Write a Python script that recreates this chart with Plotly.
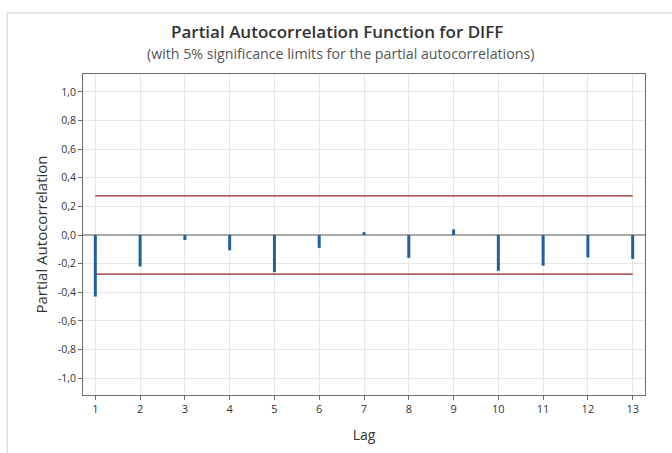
import plotly.graph_objects as go

lags = list(range(1, 14))
pacf = [-0.43, -0.22, -0.035, -0.107, -0.26, -0.09, 0.02, -0.16, 0.04, -0.25, -0.215, -0.157, -0.167]
sig_limit = 0.273
y_ticks = [1.0, 0.8, 0.6, 0.4, 0.2, 0.0, -0.2, -0.4, -0.6, -0.8, -1.0]
y_tick_text = ["1,0", "0,8", "0,6", "0,4", "0,2", "0,0", "-0,2", "-0,4", "-0,6", "-0,8", "-1,0"]
title_text = "Partial Autocorrelation Function for DIFF"
subtitle_text = "(with 5% significance limits for the partial autocorrelations)"

FONT = "Open Sans, Noto Sans, sans-serif"

fig = go.Figure()

# significance limits
fig.add_trace(go.Scatter(x=[lags[0], lags[-1]], y=[sig_limit, sig_limit], mode="lines",
                         line=dict(color="#8b2323", width=1.3), hoverinfo="skip", showlegend=False))
fig.add_trace(go.Scatter(x=[lags[0], lags[-1]], y=[-sig_limit, -sig_limit], mode="lines",
                         line=dict(color="#8b2323", width=1.3), hoverinfo="skip", showlegend=False))

# PACF spikes
xs, ys = [], []
for l, v in zip(lags, pacf):
    xs += [l, l, None]
    ys += [0, v, None]
fig.add_trace(go.Scatter(x=xs, y=ys, mode="lines", line=dict(color="#22609a", width=3),
                         showlegend=False))

fig.update_layout(
    width=672, height=453,
    margin=dict(l=83, r=27, t=74, b=58),
    paper_bgcolor="white", plot_bgcolor="white",
    font=dict(family=FONT, color="#333333"),
    xaxis=dict(
        range=[0.725, 13.275], tickmode="array", tickvals=lags, ticktext=[str(l) for l in lags],
        showgrid=True, gridcolor="#e6e6e6", gridwidth=1,
        showline=True, linecolor="#6e6e6e", linewidth=1, mirror=True,
        ticks="outside", ticklen=4, tickcolor="#6e6e6e",
        tickfont=dict(size=11, color="#333333"), zeroline=False,
        title=dict(text="Lag", font=dict(size=14, color="#333333"), standoff=14),
    ),
    yaxis=dict(
        range=[-1.118, 1.125], tickmode="array", tickvals=y_ticks, ticktext=y_tick_text,
        showgrid=True, gridcolor="#e6e6e6", gridwidth=1,
        showline=True, linecolor="#6e6e6e", linewidth=1, mirror=True,
        ticks="outside", ticklen=4, tickcolor="#6e6e6e",
        tickfont=dict(size=10.5, color="#333333"),
        zeroline=True, zerolinecolor="#a8a8a8", zerolinewidth=1.5,
        title=dict(text="Partial Autocorrelation", font=dict(size=15, color="#333333"), standoff=6),
    ),
    annotations=[
        dict(text=title_text, xref="paper", yref="paper", x=(337 - 83) / 562, y=(395 - 31) / 321,
             xanchor="center", yanchor="middle", showarrow=False,
             font=dict(size=17, color="#333333", family=FONT, weight=600)),
        dict(text=subtitle_text, xref="paper", yref="paper", x=(340 - 83) / 562, y=(395 - 53) / 321,
             xanchor="center", yanchor="middle", showarrow=False,
             font=dict(size=14.2, color="#555555", family=FONT)),
    ],
    shapes=[
        dict(type="line", xref="paper", yref="paper", x0=-0.135, x1=1.1, y0=1.19, y1=1.19,
             line=dict(color="#dddddd", width=1.5)),
        dict(type="line", xref="paper", yref="paper", x0=-0.135, x1=-0.135, y0=1.19, y1=-0.2,
             line=dict(color="#dddddd", width=1.5)),
    ],
)

fig.write_html("out.html")
